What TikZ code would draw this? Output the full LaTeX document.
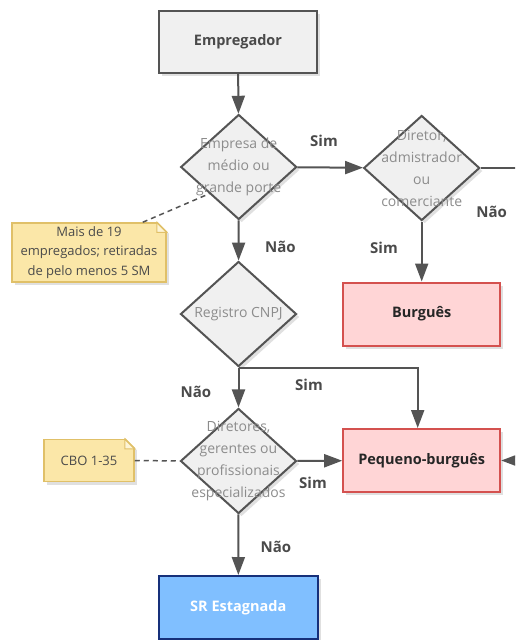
\documentclass[tikz,border=0pt]{standalone}
\usepackage{fontspec}
\setmainfont{Open Sans}
\usetikzlibrary{arrows.meta,shapes.geometric,shadows}

\definecolor{linegray}{HTML}{545454}
\definecolor{labelgray}{HTML}{4A4A4A}
\definecolor{textgray}{HTML}{8C8C8C}
\definecolor{boxgray}{HTML}{F0F0F0}
\definecolor{pinkfill}{HTML}{FFD5D6}
\definecolor{pinkline}{HTML}{D4514F}
\definecolor{bluefill}{HTML}{80BFFF}
\definecolor{blueline}{HTML}{16307A}
\definecolor{notefill}{HTML}{FBE7A8}
\definecolor{noteline}{HTML}{E0C068}
\definecolor{notefoldfill}{HTML}{FDF4D6}

\tikzset{
  boxshadow/.style={drop shadow={shadow xshift=3pt, shadow yshift=-3pt, opacity=0.12, fill=black}},
  flow/.style={draw=linegray, line width=2pt, -{Triangle[length=18pt,width=13pt]}},
  notelink/.style={draw=linegray, line width=1.5pt, dash pattern=on 5pt off 4pt},
  startbox/.style={rectangle, draw=linegray, line width=2pt, fill=boxgray, boxshadow,
    minimum width=158pt, minimum height=62pt, text=labelgray,
    font=\fontsize{14.5}{17}\selectfont\bfseries},
  classbox/.style={rectangle, draw=pinkline, line width=2pt, fill=pinkfill, boxshadow,
    minimum width=157pt, minimum height=63pt, text=black!85,
    font=\fontsize{14.5}{17}\selectfont\bfseries},
  endbox/.style={rectangle, draw=blueline, line width=2pt, fill=bluefill, boxshadow,
    minimum width=159pt, minimum height=63pt, text=white,
    font=\fontsize{14.5}{17}\selectfont\bfseries},
  decision/.style={diamond, draw=linegray, line width=2pt, fill=boxgray, boxshadow,
    minimum width=116pt, minimum height=105pt, inner sep=0pt},
  decisiontext/.style={text=textgray, align=center, font=\fontsize{14}{22}\selectfont},
  note/.style={rectangle, draw=noteline, line width=1.5pt, fill=notefill, boxshadow,
    text=labelgray, align=center, font=\fontsize{13}{19.5}\selectfont},
  notefold/.style={draw=noteline, line width=1pt, fill=notefoldfill},
  answer/.style={text=labelgray, font=\fontsize{15}{17}\selectfont\bfseries}
}

\begin{document}
\begin{tikzpicture}[x=1pt, y=-1pt]
  \useasboundingbox (0,0) rectangle (515,640);
  \clip (0,0) rectangle (515,640);
  \fill[white] (0,0) rectangle (515,640);

  % BOXES
  \node[startbox] (emp) at (238,42) {Empregador};
  \node[classbox] (burg) at (421.7,314) {Burguês};
  \node[classbox] (pb) at (421.7,460.5) {Pequeno-burguês};
  \node[endbox] (sr) at (238.3,607.5) {SR Estagnada};

  % DECISIONS
  \node[decision] (d1) at (238.7,167) {};
  \node[decisiontext] at (d1) {Empresa de\\médio ou\\grande porte};
  \node[decision] (d2) at (421.7,168) {};
  \node[decisiontext] at (d2) {Diretor,\\admistrador\\ou\\comerciante};
  \node[decision] (d3) at (238.5,314) {};
  \node[decisiontext] at (d3) {Registro CNPJ};
  \node[decision] (d4) at (238.5,461) {};
  \node[decisiontext] at (d4) {Diretores,\\gerentes ou\\profissionais\\especializados};

  % NOTES
  \node[note, minimum width=154pt, minimum height=59pt] (n1) at (89,252.5)
    {Mais de 19\\empregados; retiradas\\de pelo menos 5 SM};
  \fill[white] ([xshift=-11pt,yshift=2pt]n1.north east) -- ([xshift=2pt,yshift=2pt]n1.north east)
    -- ([xshift=2pt,yshift=-11pt]n1.north east) -- cycle;
  \filldraw[notefold] ([xshift=-10pt]n1.north east) -- ([yshift=-10pt]n1.north east)
    -- ([xshift=-10pt,yshift=-10pt]n1.north east) -- cycle;
  \draw[noteline, line width=1.5pt] ([xshift=-10pt]n1.north east) -- ([yshift=-10pt]n1.north east);

  \node[note, minimum width=90pt, minimum height=42pt] (n2) at (89,460.5) {CBO 1-35};
  \fill[white] ([xshift=-11pt,yshift=2pt]n2.north east) -- ([xshift=2pt,yshift=2pt]n2.north east)
    -- ([xshift=2pt,yshift=-11pt]n2.north east) -- cycle;
  \filldraw[notefold] ([xshift=-10pt]n2.north east) -- ([yshift=-10pt]n2.north east)
    -- ([xshift=-10pt,yshift=-10pt]n2.north east) -- cycle;
  \draw[noteline, line width=1.5pt] ([xshift=-10pt]n2.north east) -- ([yshift=-10pt]n2.north east);

  % CONNECTORS
  \coordinate (rt) at (540,168);
  \draw[flow] (emp) -- (d1);
  \draw[flow] (d1) -- (d2);
  \draw[flow] (d2) -- (burg);
  \draw[flow] (d2.east) -- (rt) |- (pb.east);
  \draw[flow] (d1) -- (d3);
  \draw[flow] (d3.south) -| ([xshift=-4pt]pb.north);
  \draw[flow] (d3) -- (d4);
  \draw[flow] (d4) -- (pb);
  \draw[flow] (d4) -- (sr);
  \draw[notelink] ([xshift=-24pt]n1.north east) -- (d1.south west);
  \draw[notelink] (n2.east) -- (d4.west);

  % LABELS
  \node[answer] (s1) at (324,141) {Sim};
  \node[answer] (s2) at (384,248) {Sim};
  \node[answer] (s3) at (309,385) {Sim};
  \node[answer] (s4) at (313,483) {Sim};
  \node[answer] (na1) at (491.7,212) {Não};
  \node[answer] (na2) at (280.5,246.5) {Não};
  \node[answer] (na3) at (196,391.5) {Não};
  \node[answer] (na4) at (276,547) {Não};
\end{tikzpicture}
\end{document}
